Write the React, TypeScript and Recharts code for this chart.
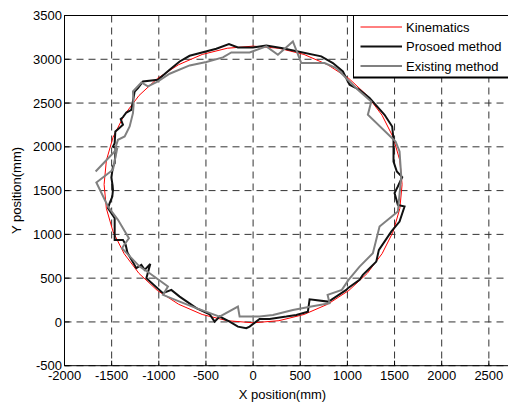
import React from 'react';
import { LineChart, Line, XAxis, YAxis, CartesianGrid, ReferenceLine, Legend } from 'recharts';

const FONT = '"Liberation Sans", Arial, sans-serif';
const FS = 13;

const xTicks = [-2000, -1500, -1000, -500, 0, 500, 1000, 1500, 2000, 2500];
const yTicks = [-500, 0, 500, 1000, 1500, 2000, 2500, 3000, 3500];

const seriesNames = ['Kinematics', 'Prosoed method', 'Existing method'];
const seriesColors = ['#ff0000', '#111111', '#808080'];
const seriesWidths = [1, 2, 2];

const kinematicsPoints: [number, number][] = [
  [1580, 1570], [1556, 1844], [1485, 2110], [1368, 2360], [1210, 2586], [1016, 2780],
  [790, 2938], [540, 3055], [274, 3126], [0, 3150], [-274, 3126], [-540, 3055],
  [-790, 2938], [-1016, 2780], [-1210, 2586], [-1368, 2360], [-1485, 2110], [-1556, 1844],
  [-1580, 1570], [-1556, 1296], [-1485, 1030], [-1368, 780], [-1210, 554], [-1016, 360],
  [-790, 202], [-540, 85], [-274, 14], [0, -10], [274, 14], [540, 85],
  [790, 202], [1016, 360], [1210, 554], [1368, 780], [1485, 1030], [1556, 1296],
  [1580, 1570],
];

const proposedPoints: [number, number][] = [
  [-1490, 1560], [-1503, 1650], [-1486, 1775], [-1468, 1814], [-1457, 1985], [-1486, 2003],
  [-1468, 2042], [-1461, 2175], [-1433, 2202], [-1380, 2252], [-1404, 2317], [-1380, 2339],
  [-1344, 2392], [-1291, 2423], [-1256, 2632], [-1221, 2671], [-1168, 2747], [-1009, 2766],
  [-885, 2880], [-779, 2975], [-673, 3040], [-390, 3120], [-256, 3174], [-161, 3135],
  [-2, 3135], [140, 3158], [299, 3128], [475, 3090], [723, 3033], [846, 2957],
  [952, 2861], [1023, 2709], [1129, 2652], [1235, 2557], [1394, 2366], [1475, 2232],
  [1489, 2080], [1489, 1832], [1524, 1718], [1581, 1654], [1535, 1547], [1500, 1471],
  [1535, 1337], [1606, 1318], [1553, 1146], [1465, 1032], [1334, 823], [1306, 689],
  [1217, 594], [1164, 537], [1129, 480], [1005, 385], [988, 366], [829, 251],
  [793, 232], [599, 259], [581, 118], [458, 80], [352, 61], [175, 34],
  [69, 34], [-37, -54], [-72, -72], [-161, -54], [-249, 3], [-355, 61],
  [-408, 3], [-461, 88], [-602, 157], [-779, 289], [-867, 366], [-956, 328],
  [-1132, 500], [-1090, 663], [-1150, 594], [-1185, 651], [-1238, 614], [-1333, 792],
  [-1351, 880], [-1380, 937], [-1468, 937], [-1468, 1185], [-1539, 1300], [-1521, 1357],
  [-1493, 1432], [-1486, 1509], [-1490, 1560],
];

const existingPoints: [number, number][] = [
  [-1670, 1718], [-1468, 1947], [-1450, 2023], [-1433, 2080], [-1362, 2118], [-1309, 2232],
  [-1274, 2385], [-1267, 2480], [-1274, 2632], [-1185, 2735], [-1115, 2690], [-1009, 2747],
  [-885, 2835], [-673, 2930], [-496, 2968], [-320, 3021], [-231, 3078], [-37, 3078],
  [140, 3147], [263, 3052], [422, 3204], [511, 2957], [758, 2957], [882, 2900],
  [1023, 2747], [1111, 2652], [1253, 2518], [1217, 2366], [1511, 2061], [1553, 1947],
  [1571, 1661], [1535, 1261], [1341, 1089], [1270, 785], [1129, 632], [1012, 480],
  [941, 366], [790, 309], [811, 214], [617, 175], [422, 137], [210, 80],
  [69, 61], [-143, 61], [-161, 175], [-355, 61], [-602, 157], [-691, 194],
  [-779, 232], [-956, 309], [-903, 404], [-1097, 556], [-1203, 632], [-1391, 842],
  [-1317, 956], [-1433, 1166], [-1539, 1318], [-1662, 1592], [-1486, 1738], [-1440, 1990],
];

const toRows = (pts: [number, number][]) => pts.map(([x, y]) => ({ x, y }));
const allSeries = [kinematicsPoints, proposedPoints, existingPoints].map(toRows);

const renderLegend = (props: any) => {
  const payload = (props && props.payload) || [];
  const items = seriesNames.map((name, i) => {
    const p = payload.find((e: any) => e.value === name);
    return { name, color: (p && p.color) || seriesColors[i], width: seriesWidths[i] };
  });
  const rowY = [12, 31.5, 51];
  return (
    <svg width={170} height={64} style={{ display: 'block', overflow: 'visible' }}>
      <rect x={0.5} y={0.5} width={200} height={62} fill="#ffffff" stroke="#000000" strokeWidth={1} />
      <line x1={0} x2={200} y1={62.5} y2={62.5} stroke="#000000" strokeWidth={2} />
      {items.map((it, i) => (
        <g key={it.name}>
          <line x1={7.5} x2={49} y1={rowY[i]} y2={rowY[i]} stroke={it.color} strokeWidth={it.width} />
          <text x={53} y={rowY[i] + 4.6} fontSize={FS} fontFamily={FONT} fill="#000">
            {it.name}
          </text>
        </g>
      ))}
    </svg>
  );
};

export default function App() {
  return (
    <div
      style={{
        position: 'absolute',
        left: 0,
        top: 0,
        width: 508,
        height: 403,
        overflow: 'hidden',
        background: '#ffffff',
        fontFamily: FONT,
      }}
    >
      <LineChart
        width={540}
        height={403}
        margin={{ top: 15.5, right: 4, left: 0.5, bottom: 0 }}
      >
        <CartesianGrid
          stroke="#333333"
          strokeDasharray="7 5"
          horizontalValues={yTicks}
          verticalValues={xTicks}
        />
        <XAxis
          type="number"
          dataKey="x"
          domain={[-2000, 3000]}
          ticks={xTicks}
          interval={0}
          allowDataOverflow
          height={37.3}
          stroke="#000"
          tickSize={-5}
          tickMargin={10.5}
          tick={{ fontSize: FS, fill: '#000', fontFamily: FONT }}
          label={{
            content: () => (
              <text x={282.5} y={398.5} textAnchor="middle" fontSize={FS} fontFamily={FONT} fill="#000">
                X position(mm)
              </text>
            ),
          }}
        />
        <YAxis
          type="number"
          dataKey="y"
          domain={[-500, 3500]}
          ticks={yTicks}
          interval={0}
          allowDataOverflow
          width={64}
          stroke="#000"
          tickSize={-5}
          tickMargin={7.5}
          tick={{ fontSize: FS, fill: '#000', fontFamily: FONT }}
          label={{
            content: () => (
              <text
                x={21}
                y={190.5}
                textAnchor="middle"
                fontSize={FS}
                fontFamily={FONT}
                fill="#000"
                transform="rotate(-90 21 190.5)"
              >
                Y position(mm)
              </text>
            ),
          }}
        />
        <ReferenceLine y={3500} stroke="#000" strokeWidth={1} />
        <ReferenceLine x={3000} stroke="#000" strokeWidth={1} />
        {allSeries.map((rows, i) => (
          <Line
            key={seriesNames[i]}
            data={rows}
            dataKey="y"
            name={seriesNames[i]}
            type="linear"
            stroke={seriesColors[i]}
            strokeWidth={seriesWidths[i]}
            dot={false}
            activeDot={false}
            isAnimationActive={false}
            strokeLinejoin="miter"
          />
        ))}
        <Legend
          layout="horizontal"
          verticalAlign="middle"
          align="center"
          content={renderLegend}
          wrapperStyle={{ left: 353, top: 15, width: 170, height: 64, position: 'absolute' }}
        />
      </LineChart>
    </div>
  );
}
